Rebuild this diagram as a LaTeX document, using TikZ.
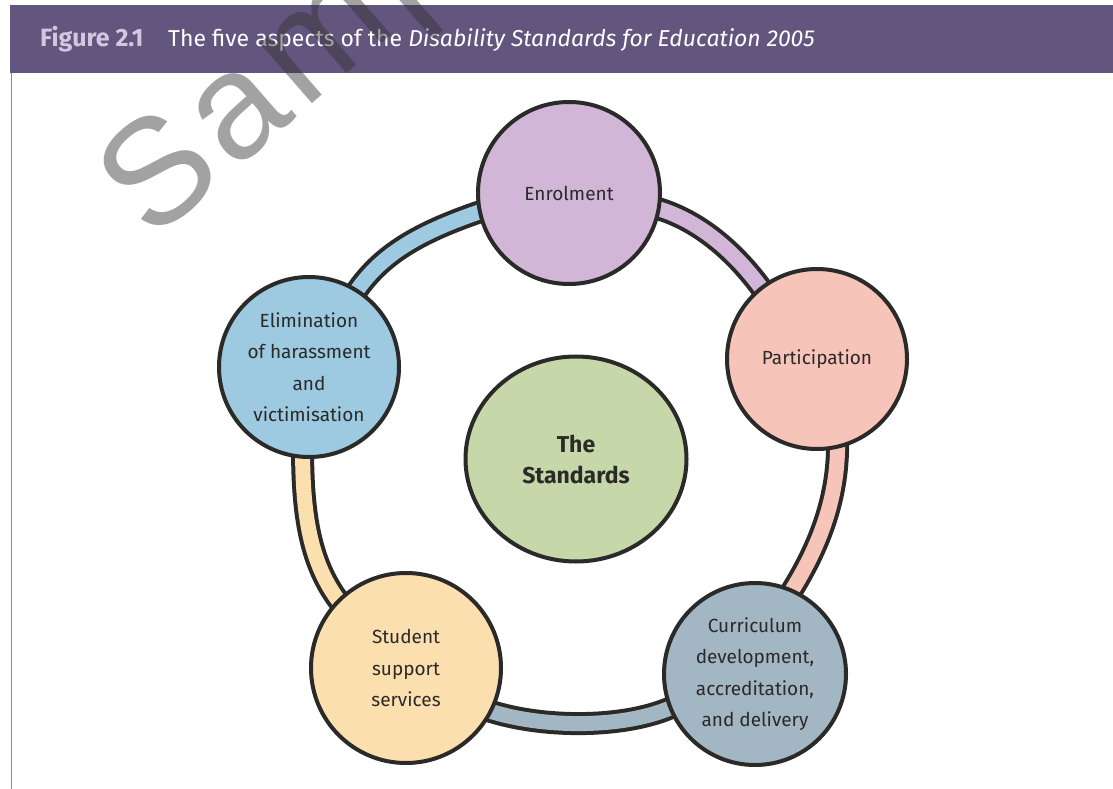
\documentclass[tikz,border=0pt]{standalone}
\usepackage{fontspec}
\setmainfont{Fira Sans}
\newfontfamily\wmfont[LetterSpace=6]{Liberation Sans}
\usetikzlibrary{backgrounds,shapes.geometric}
\definecolor{hdr}{HTML}{62567F}
\definecolor{hdrfig}{HTML}{D1C8E0}
\definecolor{hdrline}{HTML}{8A82A6}
\definecolor{ink}{HTML}{2A2A28}
\definecolor{cEnrol}{HTML}{D2B6D8}
\definecolor{cPart}{HTML}{F7C4BA}
\definecolor{cCurr}{HTML}{A3B6C3}
\definecolor{cStud}{HTML}{FCDFAF}
\definecolor{cElim}{HTML}{9DC9E1}
\definecolor{cStd}{HTML}{C6D7A9}
\definecolor{wm}{RGB}{50,50,50}
\begin{document}
\begin{tikzpicture}[x=1pt,y=-1pt,
  aspect/.style={circle, draw=ink, line width=4pt, align=center, text=ink,
    inner sep=0pt, font=\fontsize{19}{31.5}\selectfont},
  band/.style={draw=ink, line width=4pt, double=#1, double distance=15pt, shorten <=-8pt, shorten >=-8pt},
  hdrtext/.style={anchor=base west, inner sep=0pt, font=\fontsize{23}{28}\selectfont}]
\useasboundingbox (0,0) rectangle (1113,789);
\begin{scope}
\clip (0,0) rectangle (1113,789);
% header
\fill[hdr] (10,5) rectangle (1113,73);
\draw[hdrline, line width=1.6pt] (11.5,73) -- (11.5,789);
\node[hdrtext, text=hdrfig, font=\bfseries\fontsize{25}{28}\selectfont] (fig) at (40,47) {Figure 2.1};
\node[hdrtext, text=white] (cap) at (168,47) {The five aspects of the \textit{Disability Standards for Education 2005}};
% aspects
\node[aspect, fill=cEnrol, minimum size=182pt] (enrol) at (569,193) {Enrolment};
\node[aspect, fill=cPart, minimum size=180pt] (part) at (817,359) {Participation};
\node[aspect, fill=cCurr, minimum size=182pt] (curr) at (755,674) {Curriculum\\development,\\accreditation,\\and delivery};
\node[aspect, fill=cStud, minimum size=190pt] (stud) at (406,668) {Student\\support\\services};
\node[aspect, fill=cElim, minimum size=180pt] (elim) at (309,367) {Elimination\\of harassment\\and\\victimisation};
\node[ellipse, draw=ink, line width=4pt, fill=cStd, minimum width=221pt, minimum height=205pt,
  align=center, text=ink, inner sep=0pt, font=\bfseries\fontsize{23}{31}\selectfont] (std) at (576,459) {The\\Standards};
% bands
\begin{pgfonlayer}{background}
\fill[white] (0,0) rectangle (1113,789);
\draw[band=cElim] (elim.58) .. controls +(22,-34) and +(-60,20) .. (enrol.192);
\draw[band=cEnrol] (enrol.-10) .. controls +(31,8) and +(-29,-41) .. (part.128);
\draw[band=cPart] (part.-77) .. controls +(1,53) and +(23,-36) .. (curr.66);
\draw[band=cCurr] (curr.202) .. controls +(-41,20) and +(49,17) .. (stud.-27);
\draw[band=cStud] (stud.135) .. controls +(-25,-31) and +(0,63) .. (elim.-94);
\end{pgfonlayer}
% watermark
\node[anchor=base west, inner sep=0pt, rotate=41, text=wm, text opacity=0.45,
  font=\wmfont\fontsize{150}{150}\selectfont] (wmk) at (152,243) {Sample};
\end{scope}
\end{tikzpicture}
\end{document}
